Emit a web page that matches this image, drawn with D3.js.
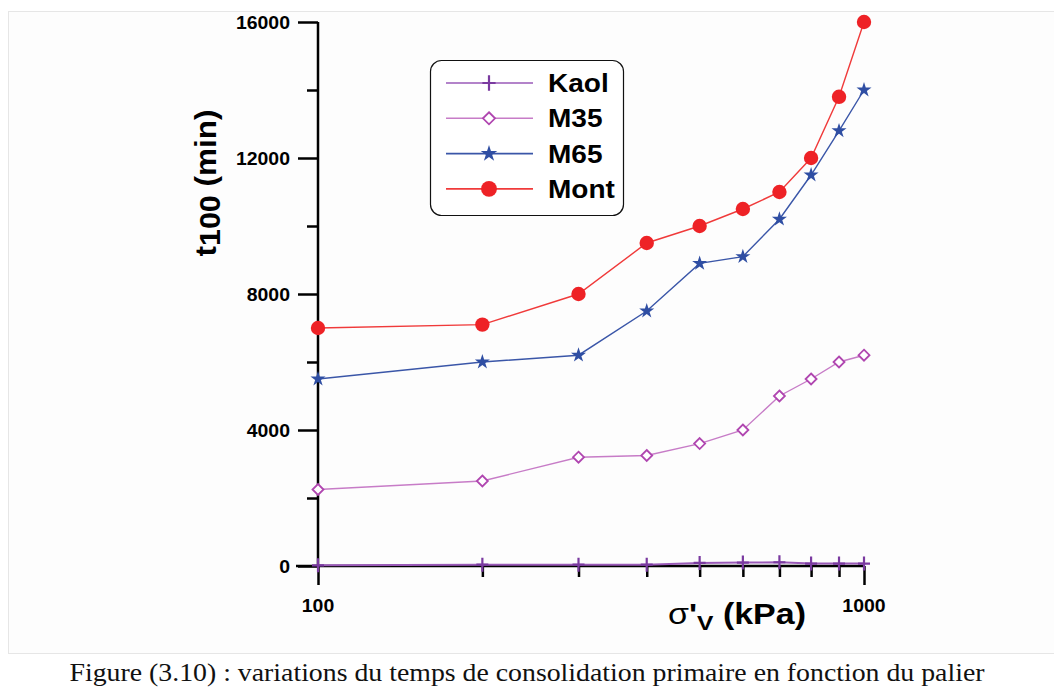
<!DOCTYPE html>
<html><head><meta charset="utf-8">
<script src="https://cdn.jsdelivr.net/npm/d3@7"></script>
<style>body{margin:0;background:#fff;}svg{display:block;}</style>
</head><body>
<svg id="c" width="1054" height="695"></svg>
<script>
const pressures = [100, 200, 300, 400, 500, 600, 700, 800, 900, 1000];
const kaol = [20, 40, 40, 40, 90, 100, 110, 70, 70, 70];
const m35  = [2250, 2500, 3200, 3250, 3600, 4000, 5000, 5500, 6000, 6200];
const m65  = [5500, 6000, 6200, 7500, 8900, 9100, 10200, 11500, 12800, 14000];
const mont = [7000, 7100, 8000, 9500, 10000, 10500, 11000, 12000, 13800, 16000];
const seriesNames = ["Kaol", "M35", "M65", "Mont"];
const yMajorTicks = [0, 4000, 8000, 12000, 16000];
const yMinorTicks = [2000, 6000, 10000, 14000];
const xTickLabels = [100, 1000];
const caption = "Figure (3.10) : variations du temps de consolidation primaire en fonction du palier";

const FONT = "Liberation Sans, Arial, sans-serif";
function stretch(sel, f) {
  sel.each(function() {
    const w = this.getComputedTextLength();
    d3.select(this).attr("textLength", w * f).attr("lengthAdjust", "spacingAndGlyphs");
  });
}

const svg = d3.select("#c");
svg.append("rect").attr("x", 8.5).attr("y", 11.5).attr("width", 1060).attr("height", 642)
  .attr("fill", "#fdfdfd").attr("stroke", "#e6e6e6").attr("stroke-width", 1);

const x = d3.scaleLog().domain([100, 1000]).range([318, 864]);
const y = d3.scaleLinear().domain([0, 16000]).range([566, 22]);

const styles = {
  Kaol: {line: "#9a5ab8", mark: "#7a3aa0", data: kaol},
  M35:  {line: "#c77cc7", mark: "#b046b0", data: m35},
  M65:  {line: "#3a56a8", mark: "#2f4ea3", data: m65},
  Mont: {line: "#f03a3a", mark: "#ee2226", data: mont}
};

const g = svg.append("g");

// Axes
const yAxis = d3.axisLeft(y).tickValues(yMajorTicks).tickSize(20).tickSizeOuter(0).tickPadding(8)
  .tickFormat(d3.format("d"));
const yg = g.append("g").attr("transform", "translate(318,0)").call(yAxis);
yg.select(".domain").attr("stroke-width", 2.5).attr("d", `M0,${y(16000)}V${y(0)}`);
yg.selectAll(".tick line").attr("stroke-width", 2.5);
yg.selectAll(".tick text").attr("font-family", FONT)
  .attr("font-weight", "bold").attr("font-size", 18).attr("fill", "#000").attr("dy", "0.36em");
stretch(yg.selectAll(".tick text"), 1.08);
const ygm = g.append("g").attr("transform", "translate(318,0)")
  .call(d3.axisLeft(y).tickValues(yMinorTicks).tickSize(11).tickFormat(""));
ygm.select(".domain").remove();
ygm.selectAll(".tick line").attr("stroke-width", 2.5);

const xg = g.append("g").attr("transform", "translate(0,566)")
  .call(d3.axisBottom(x).tickValues(pressures).tickSize(11).tickSizeOuter(0).tickFormat(""));
xg.select(".domain").attr("stroke-width", 2.5).attr("d", `M296,0H${x(1000)}`);
xg.selectAll(".tick line").attr("stroke-width", 2.5)
  .attr("y2", d => (d === 100 || d === 1000) ? 19 : 11);
const xl = g.selectAll(".xlab").data(xTickLabels).enter().append("text")
  .attr("x", d => x(d)).attr("y", 612).attr("text-anchor", "middle")
  .attr("font-family", FONT).attr("font-weight", "bold")
  .attr("font-size", 18).text(d => d);
stretch(xl, 1.08);

// axis titles
const yt = svg.append("text").attr("transform", "translate(216,183) rotate(-90)")
  .attr("text-anchor", "middle").attr("font-family", FONT)
  .attr("font-weight", "bold").attr("font-size", 30);
yt.append("tspan").text("t");
yt.append("tspan").attr("font-size", 29).attr("dy", 4).text("100");
yt.append("tspan").attr("dy", -4).text(" (min)");
yt.attr("textLength", 147).attr("lengthAdjust", "spacingAndGlyphs");

const xt = svg.append("text").attr("x", 668).attr("y", 624)
  .attr("font-family", FONT).attr("font-size", 29);
xt.append("tspan").text("σ");
xt.append("tspan").attr("font-weight", "bold").text("'");
xt.append("tspan").attr("font-weight", "bold").attr("font-size", 21).attr("dy", 6).text("V");
xt.append("tspan").attr("font-weight", "bold").attr("dy", -6).text(" (kPa)");
xt.attr("textLength", 138).attr("lengthAdjust", "spacingAndGlyphs");

// markers
function drawMarker(sel, name, cx, cy, scale) {
  const s = styles[name];
  scale = scale || 1;
  if (name === "Kaol") {
    sel.append("path").attr("d", `M${cx-6*scale},${cy}H${cx+6*scale}M${cx},${cy-7*scale}V${cy+7*scale}`)
      .attr("stroke", s.mark).attr("stroke-width", 2.2).attr("fill", "none");
  } else if (name === "M35") {
    const r = 5.5 * scale;
    sel.append("path").attr("d", `M${cx},${cy-r}L${cx+r},${cy}L${cx},${cy+r}L${cx-r},${cy}Z`)
      .attr("stroke", s.mark).attr("stroke-width", 1.8).attr("fill", "#fff");
  } else if (name === "M65") {
    sel.append("path").attr("d", d3.symbol(d3.symbolStar, 70 * scale * scale)())
      .attr("transform", `translate(${cx},${cy})`).attr("fill", s.mark);
  } else {
    sel.append("circle").attr("cx", cx).attr("cy", cy).attr("r", 7.2 * scale).attr("fill", s.mark);
  }
}

const line = d3.line().x(d => x(d[0])).y(d => y(d[1]));
const plotOrder = ["M35", "M65", "Mont", "Kaol"];
plotOrder.forEach(name => {
  const s = styles[name];
  const pts = pressures.map((p, i) => [p, s.data[i]]);
  g.append("path").attr("d", line(pts)).attr("fill", "none")
    .attr("stroke", s.line).attr("stroke-width", name === "Kaol" ? 2 : 1.4);
  const mg = g.append("g");
  pts.forEach(p => drawMarker(mg, name, x(p[0]), y(p[1])));
});

// legend
const lg = svg.append("g");
lg.append("rect").attr("x", 430.5).attr("y", 60.5).attr("width", 193).attr("height", 155)
  .attr("rx", 11).attr("fill", "#fff").attr("stroke", "#111").attr("stroke-width", 1.2);
seriesNames.forEach((name, i) => {
  const cy = 83 + i * 35.3;
  lg.append("line").attr("x1", 446).attr("x2", 533).attr("y1", cy).attr("y2", cy)
    .attr("stroke", styles[name].line).attr("stroke-width", 1.6);
  drawMarker(lg, name, 489, cy, 1.1);
  const t = lg.append("text").attr("x", 548).attr("y", cy).attr("dy", "0.36em")
    .attr("font-family", FONT).attr("font-weight", "bold")
    .attr("font-size", 25).text(name);
  stretch(t, 1.12);
});

// caption
svg.append("text").attr("x", 527).attr("y", 681).attr("text-anchor", "middle")
  .attr("font-family", "Liberation Serif, Times New Roman, serif").attr("font-size", 26)
  .attr("fill", "#111").attr("textLength", 915).attr("lengthAdjust", "spacingAndGlyphs")
  .text(caption);
</script>
</body></html>
